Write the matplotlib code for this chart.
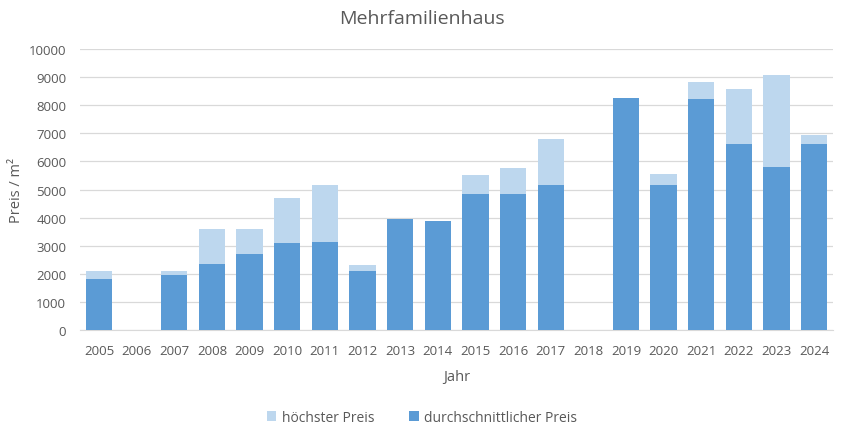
import numpy as np
import matplotlib.pyplot as plt

years = [str(y) for y in range(2005, 2025)]
# highest price per m2 (nan = no value)
hoechster = [2100, np.nan, 2100, 3580, 3580, 4700, 5170, 2300, np.nan, np.nan,
             5520, 5780, 6780, np.nan, np.nan, 5560, 8830, 8560, 9080, 6950]
# average price per m2
durchschnitt = [1820, np.nan, 1970, 2360, 2710, 3100, 3140, 2100, 3960, 3880,
                4850, 4850, 5170, np.nan, 8260, 5170, 8220, 6630, 5810, 6630]

TEXT = '#595959'
plt.rcParams['font.family'] = ['Open Sans', 'DejaVu Sans']

fig = plt.figure(figsize=(8.44, 4.31), dpi=100)
ax = fig.add_axes([0.095, 0.232, 0.892, 0.652])

x = np.arange(len(years))
ax.bar(x, hoechster, width=0.7, color='#BDD7EE', label='höchster Preis', zorder=2)
ax.bar(x, durchschnitt, width=0.7, color='#5B9BD5', label='durchschnittlicher Preis', zorder=3)

ax.set_xlim(-0.5, len(years) - 0.5)
ax.set_ylim(0, 10000)
ax.set_yticks(np.arange(0, 10001, 1000))
ax.set_xticks(x)
ax.set_xticklabels(years)
ax.yaxis.grid(True, color='#D9D9D9', linewidth=0.9, zorder=0)
ax.set_axisbelow(True)
for s in ['top', 'right', 'left']:
    ax.spines[s].set_visible(False)
ax.spines['bottom'].set_color('#D9D9D9')
ax.tick_params(axis='both', length=0, colors=TEXT, labelsize=9.5)
ax.tick_params(axis='y', pad=10)
ax.tick_params(axis='x', pad=10)

ax.set_xlabel('Jahr', color=TEXT, fontsize=10.5, labelpad=9)
ax.set_ylabel('Preis / m²', color=TEXT, fontsize=10.5)
ax.yaxis.set_label_coords(-0.074, 0.5)
fig.text(0.5, 0.955, 'Mehrfamilienhaus', ha='center', va='center', color=TEXT, fontsize=14)

fig.legend(loc='center', bbox_to_anchor=(0.5, 0.03), ncol=2, frameon=False,
           fontsize=10, labelcolor=TEXT, handlelength=0.7, handleheight=0.7,
           columnspacing=2.5, handletextpad=0.4)

fig.savefig('out.png', dpi=100)
